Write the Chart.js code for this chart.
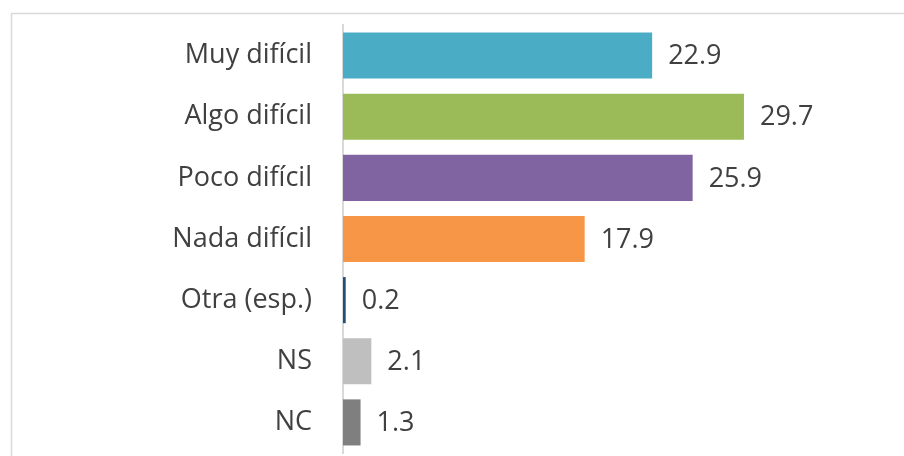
<!DOCTYPE html>
<html>
<head>
<meta charset="utf-8">
<script src="https://cdn.jsdelivr.net/npm/chart.js@4.4.1/dist/chart.umd.min.js"></script>
<style>
    html, body { margin: 0; padding: 0; background: #ffffff; }
    #wrap { width: 904px; height: 456px; position: relative; }
</style>
</head>
<body>
<div id="wrap"><canvas id="myChart"></canvas></div>
<script>
const categories = ['Muy difícil', 'Algo difícil', 'Poco difícil', 'Nada difícil', 'Otra (esp.)', 'NS', 'NC'];
const values = [22.9, 29.7, 25.9, 17.9, 0.2, 2.1, 1.3];
const barColors = ['#4BACC6', '#9BBB59', '#8064A2', '#F79646', '#1F4E79', '#BFBFBF', '#7F7F7F'];

const textColor = '#404040';
const fontFamily = "'Open Sans', sans-serif";

// marco gris del gráfico (cortado por la derecha y abajo)
const frame = {
    id: 'frame',
    beforeDraw(chart) {
        const ctx = chart.ctx;
        ctx.save();
        ctx.strokeStyle = '#d9d9d9';
        ctx.lineWidth = 1.5;
        ctx.strokeRect(11.5, 13.5, chart.width + 20, chart.height + 20);
        ctx.restore();
    }
};

// etiquetas de valor al final de cada barra
const valueLabels = {
    id: 'valueLabels',
    afterDatasetsDraw(chart) {
        const ctx = chart.ctx;
        const meta = chart.getDatasetMeta(0);
        ctx.save();
        ctx.fillStyle = textColor;
        ctx.font = '27px ' + fontFamily;
        ctx.textAlign = 'left';
        ctx.textBaseline = 'middle';
        meta.data.forEach((bar, i) => {
            ctx.fillText(values[i].toFixed(1), bar.x + 16, bar.y + 1);
        });
        ctx.restore();
    }
};

new Chart(document.getElementById('myChart').getContext('2d'), {
    type: 'bar',
    data: {
        labels: categories,
        datasets: [{
            data: values,
            backgroundColor: barColors,
            borderWidth: 0,
            categoryPercentage: 0.754,
            barPercentage: 1
        }]
    },
    options: {
        indexAxis: 'y',
        responsive: true,
        maintainAspectRatio: false,
        animation: false,
        layout: { padding: { top: 25, bottom: 3, left: 0, right: 21 } },
        scales: {
            x: {
                display: false,
                min: 0,
                max: 40
            },
            y: {
                afterFit: (axis) => {
                    axis.width = 343;
                    axis.paddingTop = 0;
                    axis.paddingBottom = 0;
                },
                grid: { display: false, drawTicks: false },
                border: { display: true, color: '#d9d9d9', width: 2 },
                ticks: {
                    color: textColor,
                    padding: 31,
                    font: { size: 27, family: fontFamily }
                }
            }
        },
        plugins: {
            legend: { display: false },
            tooltip: { enabled: false }
        }
    },
    plugins: [frame, valueLabels]
});
</script>
</body>
</html>
